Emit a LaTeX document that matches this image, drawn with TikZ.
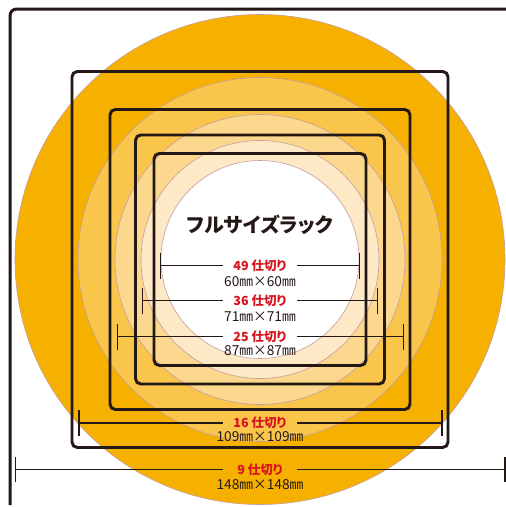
\documentclass[tikz,border=0pt]{standalone}
\usepackage{fontspec}
\usepackage{graphicx}
\newfontfamily\jp{Noto Sans CJK JP}
\newfontfamily\jpp[RawFeature=+palt]{Noto Sans CJK JP}
\definecolor{ink}{HTML}{231815}
\definecolor{labred}{HTML}{D7141E}
\definecolor{ringline}{HTML}{C49CA0}
\definecolor{orA}{HTML}{F6B100}
\definecolor{orB}{HTML}{F9C54B}
\definecolor{orC}{HTML}{FCD78E}
\definecolor{orD}{HTML}{FEE9C6}
\definecolor{orE}{HTML}{FFFFFF}
\begin{document}
\begin{tikzpicture}[x=0.75pt,y=-0.75pt,
  ring/.style={circle, draw=ringline, line width=0.45pt, inner sep=0pt},
  box/.style={rectangle, draw=ink, line width=2.2pt, rounded corners=4pt, inner sep=0pt},
  mline/.style={draw=ink, line width=1pt},
  tickline/.style={draw=ink, line width=1.35pt},
  lab/.style={font=\jpp\bfseries\fontsize{9.4}{10}\selectfont, text=labred, minimum width=55.5pt, inner xsep=0pt, inner ysep=0pt},
  dim/.style={font=\jp\fontsize{10.3}{11}\selectfont, text=ink, inner sep=0pt}]
\useasboundingbox (0,0) rectangle (506,507);
\fill[white] (0,0) rectangle (506,507);
\coordinate (c) at (260,259.5);
% rings
\node[ring, fill=orA, minimum size=367.5pt] (r148) at (c) {};
\node[ring, fill=orB, minimum size=273pt] (r109) at (c) {};
\node[ring, fill=orC, minimum size=217.5pt] (r87) at (c) {};
\node[ring, fill=orD, minimum size=178.5pt] (r71) at (c) {};
\node[ring, fill=orE, minimum size=148.5pt] (r60) at (c) {};
% boxes
\node[box, minimum size=282pt] (s16) at (c) {};
\node[box, minimum size=225pt] (s25) at (c) {};
\node[box, minimum size=186.75pt] (s36) at (c) {};
\node[box, minimum size=159pt] (s49) at (c) {};
% frame
\draw[ink, line width=2.25pt, rounded corners=5pt] (10,505) -- (10,9) -- (508,9);
% title
\node[font=\jpp\bfseries\fontsize{15}{16}\selectfont, text=ink] (title) at (260,225) {フルサイズラック};
% 49
\coordinate (a49) at (160.5,265.5); \coordinate (b49) at (359.5,265.5);
\node[lab] (l49) at (260,265.5) {49 仕切り};
\node[dim] (d49) at (260,281.5) {60㎜×60㎜};
\draw[mline] (a49) -- (l49.west); \draw[mline] (l49.east) -- (b49);
\draw[tickline] ([yshift=9.75pt]a49) -- ([yshift=-9.75pt]a49);
\draw[tickline] ([yshift=9.75pt]b49) -- ([yshift=-9.75pt]b49);
% 36
\coordinate (a36) at (142.5,300.5); \coordinate (b36) at (377.5,300.5);
\node[lab] (l36) at (260,300.5) {36 仕切り};
\node[dim] (d36) at (260,317) {71㎜×71㎜};
\draw[mline] (a36) -- (l36.west); \draw[mline] (l36.east) -- (b36);
\draw[tickline] ([yshift=9.75pt]a36) -- ([yshift=-9.75pt]a36);
\draw[tickline] ([yshift=9.75pt]b36) -- ([yshift=-9.75pt]b36);
% 25
\coordinate (a25) at (117.5,336.5); \coordinate (b25) at (403.5,336.5);
\node[lab] (l25) at (260,336.5) {25 仕切り};
\node[dim] (d25) at (260,350.5) {87㎜×87㎜};
\draw[mline] (a25) -- (l25.west); \draw[mline] (l25.east) -- (b25);
\draw[tickline] ([yshift=9.75pt]a25) -- ([yshift=-9.75pt]a25);
\draw[tickline] ([yshift=9.75pt]b25) -- ([yshift=-9.75pt]b25);
% 16
\coordinate (a16) at (79,423); \coordinate (b16) at (442,423);
\node[lab] (l16) at (260,423) {16 仕切り};
\node[dim] (d16) at (260,436.5) {109㎜×109㎜};
\draw[mline] (a16) -- (l16.west); \draw[mline] (l16.east) -- (b16);
\draw[tickline] ([yshift=9.75pt]a16) -- ([yshift=-9.75pt]a16);
\draw[tickline] ([yshift=9.75pt]b16) -- ([yshift=-9.75pt]b16);
% 9
\coordinate (a9) at (15.5,469.5); \coordinate (b9) at (505,469.5);
\node[lab] (l9) at (260,469.5) {9 仕切り};
\node[dim] (d9) at (260,485) {148㎜×148㎜};
\draw[mline] (a9) -- (l9.west); \draw[mline] (l9.east) -- (b9);
\draw[tickline] ([yshift=9.5pt]a9) -- ([yshift=-9.5pt]a9);
\draw[tickline] ([yshift=9.5pt]b9) -- ([yshift=-9.5pt]b9);
\end{tikzpicture}
\end{document}
